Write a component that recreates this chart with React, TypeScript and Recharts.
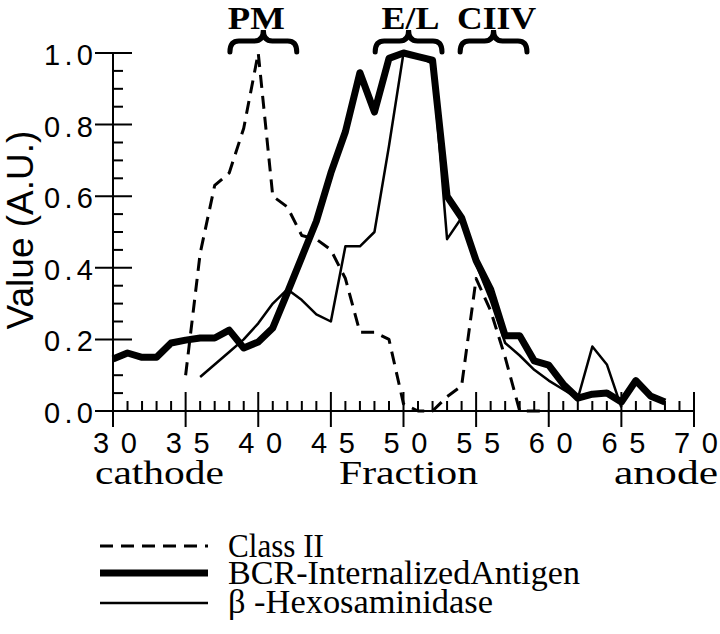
import React from 'react';
import { LineChart, Line, XAxis, YAxis, ReferenceArea, Legend } from 'recharts';

// ---------- data ----------
const fractions = [30, 31, 32, 33, 34, 35, 36, 37, 38, 39, 40, 41, 42, 43, 44, 45, 46, 47, 48, 49, 50, 51, 52, 53, 54, 55, 56, 57, 58, 59, 60, 61, 62, 63, 64, 65, 66, 67, 68];

const classIIValues = [null, null, null, null, null,
  0.1, 0.44, 0.63, 0.665, 0.79, 1.0, 0.6, 0.57, 0.49, 0.48, 0.45, 0.37, 0.22, 0.22, 0.2,
  0.02, 0.0, 0.0, 0.04, 0.07, 0.37, 0.28, 0.15, 0.0, 0.0, 0.0,
  null, null, null, null, null, null, null, null];

const bcrValues = [0.145, 0.162, 0.15, 0.15, 0.19, 0.198, 0.204, 0.204, 0.226, 0.176, 0.193, 0.232,
  0.33, 0.43, 0.53, 0.665, 0.78, 0.945, 0.835, 0.985, 1.0, 0.99, 0.98,
  0.6, 0.54, 0.42, 0.34, 0.21, 0.21, 0.14, 0.128, 0.075, 0.036, 0.047, 0.05, 0.025, 0.085, 0.042, 0.025];

const hexValues = [null, null, null, null, null, null,
  0.095, 0.13, 0.165, 0.2, 0.245, 0.3, 0.34, 0.31, 0.27, 0.25,
  0.46, 0.46, 0.5, 0.74, 1.0, 0.99, 0.97, 0.48, 0.54, 0.41,
  0.31, 0.19, 0.155, 0.115, 0.085, 0.06, 0.035, 0.18, 0.13, 0.01,
  null, null, null];

const xTicks = [30, 31, 32, 33, 34, 35, 36, 37, 38, 39, 40, 41, 42, 43, 44, 45, 46, 47, 48, 49, 50, 51, 52, 53, 54, 55, 56, 57, 58, 59, 60, 61, 62, 63, 64, 65, 66, 67, 68, 69, 70];
const yTicks = [0, 0.05, 0.1, 0.15, 0.2, 0.25, 0.3, 0.35, 0.4, 0.45, 0.5, 0.55, 0.6, 0.65, 0.7, 0.75, 0.8, 0.85, 0.9, 0.95, 1.0];

const seriesKeys = ['classII', 'bcr', 'hex'];
const seriesNames = ['Class II', 'BCR-InternalizedAntigen', 'β -Hexosaminidase'];

const regionLabels = ['PM', 'E/L', 'CIIV'];
const regionStarts = [38.05, 48.05, 53.9];
const regionEnds = [42.65, 52.65, 58.5];

const data = fractions.map((f, i) => ({
  f,
  classII: classIIValues[i],
  bcr: bcrValues[i],
  hex: hexValues[i],
}));

// ---------- styles ----------
const SANS = '"Liberation Sans", Arial, sans-serif';
const SERIF = '"Liberation Serif", "Times New Roman", serif';
const seriesStyle: Record<string, { width: number; dash?: string }> = {
  classII: { width: 3, dash: '13 8' },
  bcr: { width: 7 },
  hex: { width: 2.5 },
};
const regionTextLen: Record<string, number> = { PM: 57, 'E/L': 58, CIIV: 79 };
const regionTextDx: Record<string, number> = { PM: -7, 'E/L': 2, CIIV: 3 };

const XTick = (props: any) => {
  const { x, y, payload } = props;
  const v = payload.value as number;
  const major = v % 5 === 0;
  return (
    <g>
      {major ? (
        <line x1={x} x2={x} y1={y - 19} y2={y + 16} stroke="#000" strokeWidth={2} />
      ) : (
        <line x1={x} x2={x} y1={y - 10} y2={y} stroke="#000" strokeWidth={2} />
      )}
      {major && (
        <text x={x + 2} y={y + 42} textAnchor="middle" fontFamily={SANS} fontSize={29}
          textLength={44} lengthAdjust="spacing" fill="#000">
          {String(v)}
        </text>
      )}
    </g>
  );
};

const YTick = (props: any) => {
  const { x, y, payload } = props;
  const v = payload.value as number;
  const major = Math.round(v * 100) % 20 === 0;
  return (
    <g>
      {major ? (
        <line x1={x - 18} x2={x + 19} y1={y} y2={y} stroke="#000" strokeWidth={2} />
      ) : (
        <line x1={x} x2={x + 10} y1={y} y2={y} stroke="#000" strokeWidth={2} />
      )}
      {major && (
        <text x={x - 20} y={y + 12} textAnchor="end" fontFamily={SANS} fontSize={29}
          textLength={49} lengthAdjust="spacing" fill="#000">
          {v.toFixed(1)}
        </text>
      )}
    </g>
  );
};

const XLabel = (props: any) => {
  const vb = props.viewBox || { x: 113, y: 411, width: 581 };
  const base = vb.y + 73;
  return (
    <g fontFamily={SERIF} fontSize={33} fill="#000">
      <text x={vb.x - 18} y={base} textLength={129} lengthAdjust="spacingAndGlyphs">cathode</text>
      <text x={vb.x + vb.width / 2 + 5} y={base} textAnchor="middle" textLength={139} lengthAdjust="spacingAndGlyphs">Fraction</text>
      <text x={vb.x + vb.width + 24} y={base} textAnchor="end" textLength={104} lengthAdjust="spacingAndGlyphs">anode</text>
    </g>
  );
};

const YLabel = (props: any) => {
  const vb = props.viewBox || { x: 0, y: 53, height: 358 };
  const cy = vb.y + vb.height / 2 - 2;
  return (
    <text transform={`translate(33, ${cy}) rotate(-90)`} textAnchor="middle"
      fontFamily={SANS} fontSize={37} fill="#000">
      Value (A.U.)
    </text>
  );
};

const makeBrace = (label: string) => (props: any) => {
  const { x, y, width, height } = props;
  const x0 = x, x1 = x + width, xm = x + width / 2;
  const yb = y + height, yt = y, ymid = y + 11;
  const r = 9;
  const d = `M ${x0} ${yb} Q ${x0} ${ymid} ${x0 + r} ${ymid} L ${xm - r} ${ymid} Q ${xm} ${ymid} ${xm} ${yt} Q ${xm} ${ymid} ${xm + r} ${ymid} L ${x1 - r} ${ymid} Q ${x1} ${ymid} ${x1} ${yb}`;
  return (
    <g>
      <path d={d} fill="none" stroke="#000" strokeWidth={5} strokeLinecap="round" />
      <text x={xm + regionTextDx[label]} y={yt - 1} textAnchor="middle" fontFamily={SERIF} fontWeight="bold" fontSize={32}
        textLength={regionTextLen[label]} lengthAdjust="spacingAndGlyphs" fill="#000">
        {label}
      </text>
    </g>
  );
};

const LegendBox = () => {
  const lineY = [46, 73, 103];
  const textY = [57, 84, 113];
  const textX = [228, 228, 228];
  const textLen = [96, 352, 265];
  return (
    <svg width={720} height={134} style={{ display: 'block' }}>
      {seriesKeys.map((k, i) => (
        <g key={k}>
          <line x1={100} x2={208} y1={lineY[i]} y2={lineY[i]} stroke="#000"
            strokeWidth={seriesStyle[k].width} strokeDasharray={seriesStyle[k].dash} />
          <text x={textX[i]} y={textY[i]} fontFamily={SERIF} fontSize={33} fill="#000"
            textLength={textLen[i]} lengthAdjust="spacingAndGlyphs">
            {seriesNames[i]}
          </text>
        </g>
      ))}
    </svg>
  );
};

export default function App() {
  return (
    <div style={{ position: 'absolute', left: 0, top: 0, width: 720, height: 634, background: '#fff' }}>
      <LineChart width={720} height={634} data={data}
        margin={{ top: 53, right: 26, left: 0, bottom: 193 }}>
        <XAxis dataKey="f" type="number" domain={[30, 70]} ticks={xTicks} interval={0}
          height={30} tickSize={0} tickMargin={0} tickLine={false}
          axisLine={{ stroke: '#000', strokeWidth: 2 }} tick={<XTick />}
          label={<XLabel />} />
        <YAxis type="number" domain={[0, 1]} ticks={yTicks} interval={0}
          width={113} tickSize={0} tickMargin={0} tickLine={false}
          axisLine={{ stroke: '#000', strokeWidth: 2 }} tick={<YTick />}
          label={<YLabel />} />
        {regionLabels.map((lab, i) => (
          <ReferenceArea key={lab} x1={regionStarts[i]} x2={regionEnds[i]} y1={1.003} y2={1.064}
            ifOverflow="visible" shape={makeBrace(lab)} />
        ))}
        <Line dataKey="hex" name={seriesNames[2]} type="linear" stroke="#000" strokeWidth={2.5}
          dot={false} activeDot={false} isAnimationActive={false} strokeLinejoin="round" />
        <Line dataKey="classII" name={seriesNames[0]} type="linear" stroke="#000" strokeWidth={3}
          strokeDasharray="13 8" dot={false} activeDot={false} isAnimationActive={false} strokeLinejoin="round" />
        <Line dataKey="bcr" name={seriesNames[1]} type="linear" stroke="#000" strokeWidth={7}
          dot={false} activeDot={false} isAnimationActive={false} strokeLinejoin="round" />
        <Legend layout="vertical" align="center" verticalAlign="middle"
          wrapperStyle={{ position: 'absolute', left: 0, top: 500, width: 720, height: 134, margin: 0 }}
          content={() => <LegendBox />} />
      </LineChart>
    </div>
  );
}
